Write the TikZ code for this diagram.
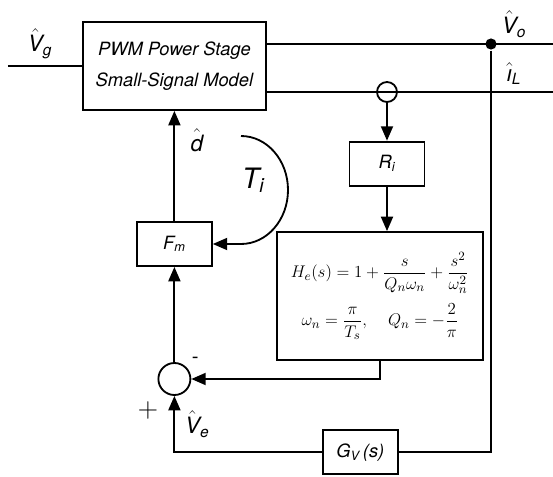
\documentclass[tikz,border=0pt]{standalone}
\usepackage{fontspec}
\setsansfont{TeX Gyre Heros}
\usetikzlibrary{arrows.meta,positioning}

\newcommand{\sighat}[2]{$\hat{\mbox{\sffamily\itshape #1}}_{\mbox{\sffamily\itshape\fontsize{11}{12}\selectfont #2}}$}

\begin{document}
\begin{tikzpicture}[
    line width=1.3pt,
    >={Triangle[length=3.6mm,width=3mm]},
    block/.style={draw, rectangle, minimum width=1.875cm, minimum height=1.1cm,
        font=\sffamily\itshape\fontsize{13}{15}\selectfont},
    junction/.style={circle, draw, inner sep=0pt, minimum size=#1},
    tap/.style={circle, fill, inner sep=0pt, minimum size=2.8mm},
    sig/.style={font=\fontsize{16}{18}\selectfont}
]
\useasboundingbox (0,0) rectangle (13.825,-11.925);

% Power stage
\node[block, minimum width=4.575cm, minimum height=2.2cm, align=center] (pwm) at (4.36,-1.65)
    {PWM Power Stage\\[7pt]Small-Signal Model};
\coordinate (vgin) at (0.2,-1.65);
\coordinate (voout) at (13.825,-1.1);
\coordinate (ilout) at (13.825,-2.3);
\node[tap] (vtap) at (12.275,-1.1) {};
\node[junction=5mm] (isense) at (9.675,-2.3) {};

% Current loop
\node[block] (ri) at (9.675,-4.09) {R\textsubscript{i}};
\node[block, minimum width=5.15cm, minimum height=3.2cm, align=center, font=\fontsize{13}{16}\selectfont] (he) at (9.5,-7.4)
    {$\displaystyle H_e(s) = 1+\frac{s}{Q_n\omega_n}+\frac{s^2}{\omega_n^2}$\\[6pt]
     $\displaystyle \omega_n = \frac{\pi}{T_s},\quad Q_n = -\frac{2}{\pi}$};
\node[block] (fm) at (4.36,-6.1) {F\textsubscript{m}};
\node[junction=8mm] (sum) at (4.36,-9.475) {};

% Voltage loop
\node[block] (gv) at (9.01,-11.31) {G\textsubscript{V}\,(s)};

% Connections
\draw (vgin) -- (pwm.west);
\draw (pwm.east |- voout) -- (voout);
\draw (pwm.east |- ilout) -- (ilout);
\draw[->] (fm) -- (pwm);
\draw[->] (sum) -- (fm);
\draw[->] (isense) -- (ri);
\draw[->] (ri) -- (ri |- he.north);
\draw[->] (he.south) |- (sum);
\draw (vtap) |- (gv);
\draw[->] (gv) -| (sum);

% Loop gain
\coordinate (tistart) at (6.025,-3.4);
\draw[->] (tistart) arc[start angle=90, end angle=-90, x radius=1.175cm, y radius=1.35cm] -- (fm);

% Labels
\node[sig] (vglbl) at (1.0,-1.1) {\sighat{V}{g}};
\node[sig] (volbl) at (12.85,-0.6) {\sighat{V}{o}};
\node[sig] (illbl) at (12.85,-1.85) {\sighat{\i}{L}};
\node[sig] (dlbl) at (4.93,-3.55) {\sighat{d}{}};
\node[font=\sffamily\itshape\fontsize{20}{22}\selectfont] (tilbl) at (6.33,-4.5) {T\textsubscript{i}};
\node[font=\sffamily\Large] (minus) at (4.88,-9.0) {-};
\node[font=\fontsize{20}{22}\selectfont] (plus) at (3.7,-10.25) {+};
\node[sig] (velbl) at (4.93,-10.6) {\sighat{V}{e}};
\end{tikzpicture}
\end{document}
